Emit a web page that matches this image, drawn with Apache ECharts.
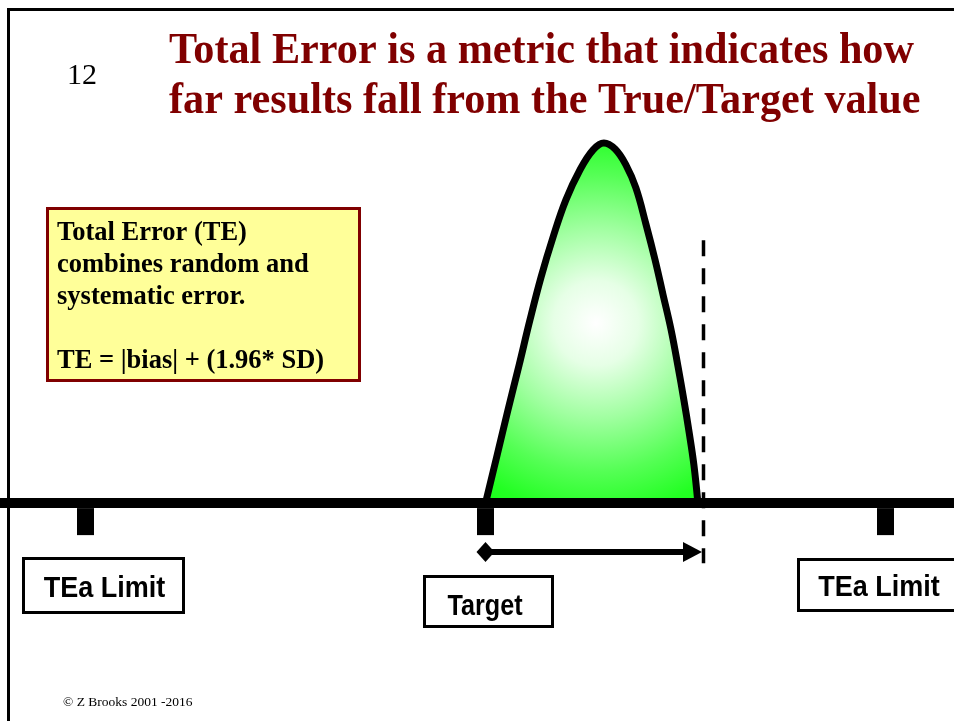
<!DOCTYPE html>
<html>
<head>
<meta charset="utf-8">
<title>Total Error</title>
<script src="https://cdn.jsdelivr.net/npm/echarts@6/dist/echarts.min.js"></script>
<style>
    html, body { margin: 0; padding: 0; background: #fff; }
    #main { width: 954px; height: 721px; }
</style>
</head>
<body>
<div id="main"></div>
<script>
    'use strict';

    // units: target = 0, TEa limits = -10 / +10, curve height normalised to 1
    var curveX = [0, 0.29, 0.56, 0.84, 1.11, 1.39, 1.69, 2.01, 2.36, 2.69, 2.96,
        3.24, 3.51, 3.76, 4.01, 4.24, 4.44, 4.64, 4.81, 4.96, 5.09, 5.21, 5.31];
    var curveY = [0, 0.133, 0.258, 0.383, 0.508, 0.628, 0.739, 0.842, 0.925, 0.981, 1.0,
        0.983, 0.939, 0.875, 0.775, 0.675, 0.578, 0.481, 0.381, 0.286, 0.197, 0.106, 0];

    var tickX = [-10, 0, 10];
    var tickNames = ['TEa Limit', 'Target', 'TEa Limit'];

    // total error reach (dashed line) and the bias + 1.96 SD arrow
    var teLineX = [5.45, 5.45];
    var teLineY = [0.73, -0.167];
    var arrowX = [0, 5.175];
    var arrowY = [-0.136, -0.136];

    var titleLines = ['Total Error is a metric that indicates how', 'far results fall from the True/Target value'];
    var noteLines = ['Total Error (TE)', 'combines random and', 'systematic error.', '', 'TE = |bias| + (1.96* SD)'];

    function zip(xs, ys) {
        var out = [];
        xs.forEach(function (x, i) {
            out.push([x, ys[i]]);
        });
        return out;
    }

    var chart = echarts.init(document.getElementById('main'), null, {renderer: 'canvas'});

    var graphics = [];

    // slide border
    graphics.push({type: 'line', shape: {x1: 8.5, y1: 8, x2: 8.5, y2: 721}, style: {stroke: '#000', lineWidth: 3}});
    graphics.push({type: 'line', shape: {x1: 7, y1: 9.5, x2: 954, y2: 9.5}, style: {stroke: '#000', lineWidth: 3}});

    graphics.push({
        type: 'text', x: 67, y: 76,
        style: {text: '12', font: '30px "Liberation Serif"', fill: '#000', verticalAlign: 'middle'}
    });

    titleLines.forEach(function (t, i) {
        graphics.push({
            type: 'text', x: 169, y: 52 + i * 49.5, scaleX: 0.96,
            style: {text: t, font: 'bold 44px "Liberation Serif"', fill: '#800000', verticalAlign: 'middle'}
        });
    });

    // yellow note
    graphics.push({
        type: 'rect', shape: {x: 47.5, y: 208.5, width: 312, height: 172},
        style: {fill: '#ffff99', stroke: '#800000', lineWidth: 3}
    });
    noteLines.forEach(function (t, i) {
        if (!t) return;
        graphics.push({
            type: 'text', x: 57, y: 233 + i * 32,
            style: {text: t, font: 'bold 26.5px "Liberation Serif"', fill: '#000', verticalAlign: 'middle'}
        });
    });

    // label boxes under the ticks
    var boxes = [
        {x: 23.5, y: 558.5, w: 160, h: 54, tx: 104.5, ty: 589, sx: 0.9},
        {x: 424.5, y: 576.5, w: 128, h: 50, tx: 485, ty: 607, sx: 0.84},
        {x: 798.5, y: 559.5, w: 170, h: 51, tx: 879, ty: 588, sx: 0.9}
    ];
    boxes.forEach(function (b, i) {
        graphics.push({
            type: 'rect', shape: {x: b.x, y: b.y, width: b.w, height: b.h},
            style: {fill: '#fff', stroke: '#000', lineWidth: 3}
        });
        graphics.push({
            type: 'text', x: b.tx, y: b.ty, scaleX: b.sx,
            style: {text: tickNames[i], font: 'bold 30px "Liberation Sans"', fill: '#000', align: 'center', verticalAlign: 'middle'}
        });
    });

    graphics.push({
        type: 'text', x: 63, y: 702,
        style: {text: '\u00a9 Z Brooks 2001 -2016', font: '13.5px "Liberation Serif"', fill: '#000', verticalAlign: 'middle'}
    });

    var option = {
        animation: false,
        backgroundColor: '#fff',
        grid: {left: 0, right: 0, top: 0, bottom: 0},
        xAxis: {
            type: 'value',
            min: -12.1375,
            max: 11.7125,
            z: 10,
            axisLine: {show: true, onZero: true, lineStyle: {color: '#000', width: 10}},
            axisTick: {show: false},
            axisLabel: {show: false},
            splitLine: {show: false}
        },
        yAxis: {
            type: 'value',
            min: -0.605,
            max: 1.397,
            axisLine: {show: false},
            axisTick: {show: false},
            axisLabel: {show: false},
            splitLine: {show: false}
        },
        graphic: graphics,
        series: [
            {
                name: 'distribution',
                type: 'line',
                data: zip(curveX, curveY),
                smooth: 0.4,
                symbol: 'none',
                z: 3,
                lineStyle: {color: '#000', width: 7, join: 'round'},
                areaStyle: {
                    opacity: 1,
                    color: {
                        type: 'radial', x: 0.52, y: 0.5, r: 1,
                        colorStops: [
                            {offset: 0, color: '#ffffff'},
                            {offset: 0.2, color: '#e6ffe6'},
                            {offset: 0.45, color: '#a0ffa0'},
                            {offset: 0.7, color: '#55ff55'},
                            {offset: 0.9, color: '#22ff22'},
                            {offset: 1, color: '#1aff1a'}
                        ]
                    }
                }
            },
            {
                name: 'ticks',
                type: 'scatter',
                data: tickX.map(function (x) { return [x, 0]; }),
                symbol: 'rect',
                symbolSize: [17, 27],
                symbolOffset: [0, 18.5],
                itemStyle: {color: '#000', opacity: 1},
                z: 4
            },
            {
                name: 'te limit',
                type: 'line',
                data: zip(teLineX, teLineY),
                symbol: 'none',
                lineStyle: {color: '#000', width: 3.5, type: [16, 12]},
                z: 5
            },
            {
                name: 'te span',
                type: 'line',
                data: [
                    {value: [arrowX[0], arrowY[0]], symbol: 'diamond', symbolSize: [18, 20]},
                    {value: [arrowX[1], arrowY[1]], symbol: 'triangle', symbolSize: [20, 19], symbolRotate: -90}
                ],
                showSymbol: true,
                itemStyle: {color: '#000', borderWidth: 0, opacity: 1},
                lineStyle: {color: '#000', width: 6},
                z: 5
            }
        ]
    };

    chart.setOption(option);
</script>
</body>
</html>
